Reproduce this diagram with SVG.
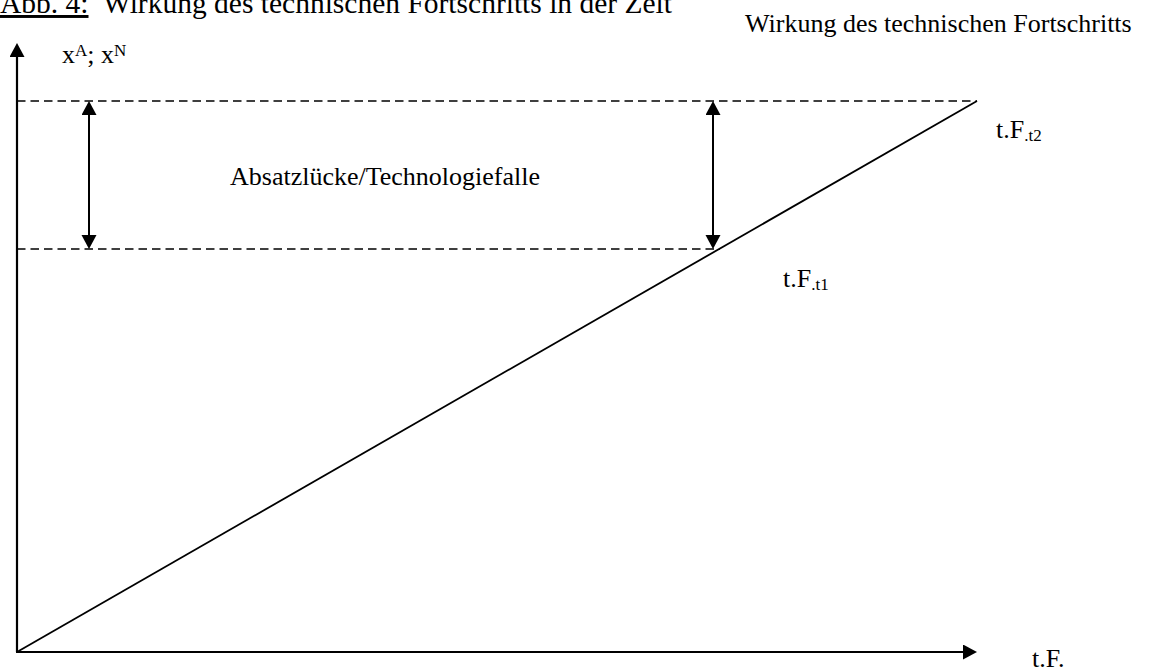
<svg xmlns="http://www.w3.org/2000/svg" width="1151" height="671" viewBox="0 0 1151 671">
<style>
.t{font-family:"Liberation Serif","Times New Roman",serif;fill:#000;font-size:26px}
.axis{stroke:#000;stroke-width:2.2;fill:none}
.dash{stroke:#000;stroke-width:1.3;stroke-dasharray:8.5 5;fill:none}
.curve{stroke:#000;stroke-width:1.8;fill:none}
.dbl{stroke:#000;stroke-width:2;fill:none}
</style>
<defs>
<marker id="ah" markerUnits="userSpaceOnUse" markerWidth="16" markerHeight="16" refX="0" refY="7.5" orient="auto-start-reverse" viewBox="0 0 16 16">
<path d="M0,0 L14,7.5 L0,15 z" fill="#000"/>
</marker>
</defs>
<g id="title">
<text class="t" x="0" y="13" style="font-size:29.5px"><tspan text-decoration="underline">Abb. 4:</tspan></text>
<text class="t" x="103" y="13" style="font-size:29.5px">Wirkung des technischen Fortschritts in der Zeit</text>
</g>
<g id="connectors">
<line id="y-axis" class="axis" x1="17" y1="652" x2="17" y2="57" marker-end="url(#ah)"/>
<line id="x-axis" class="axis" x1="16" y1="652" x2="963" y2="652" marker-end="url(#ah)"/>
<line id="dash-t2" class="dash" x1="17" y1="101" x2="977" y2="101"/>
<line id="dash-t1" class="dash" x1="17" y1="249" x2="720" y2="249"/>
<line id="tf-line" class="curve" x1="17" y1="652" x2="977" y2="101"/>
<line id="gap-left" class="dbl" x1="89" y1="115" x2="89" y2="235" marker-start="url(#ah)" marker-end="url(#ah)"/>
<line id="gap-right" class="dbl" x1="713" y1="115" x2="713" y2="235" marker-start="url(#ah)" marker-end="url(#ah)"/>
</g>
<g id="label-yaxis">
<text class="t" x="62" y="63">x<tspan font-size="17" dy="-7">A</tspan><tspan dy="7">; x</tspan><tspan font-size="17" dy="-7">N</tspan></text>
</g>
<g id="label-header">
<text class="t" x="745" y="32">Wirkung des technischen Fortschritts</text>
</g>
<g id="label-gap">
<text class="t" x="230" y="185">Absatzlücke/Technologiefalle</text>
</g>
<g id="label-t2">
<text class="t" x="996" y="138">t.F<tspan font-size="17" dy="3">.t2</tspan></text>
</g>
<g id="label-t1">
<text class="t" x="783" y="287">t.F<tspan font-size="17" dy="3">.t1</tspan></text>
</g>
<g id="label-xaxis">
<text class="t" x="1032" y="667">t.F.</text>
</g>
</svg>
